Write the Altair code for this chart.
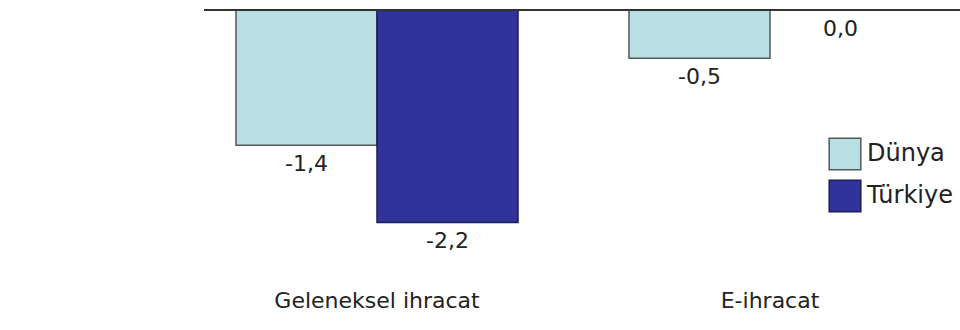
import altair as alt
import pandas as pd

categories = ["Geleneksel ihracat", "E-ihracat"]
series = ["Dünya", "Türkiye"]
dunya = [-1.4, -0.5]
turkiye = [-2.2, 0.0]
labels_dunya = ["-1,4", "-0,5"]
labels_turkiye = ["-2,2", "0,0"]

rows = []
for i, c in enumerate(categories):
    rows.append({"kategori": c, "seri": series[0], "deger": dunya[i], "etiket": labels_dunya[i]})
    rows.append({"kategori": c, "seri": series[1], "deger": turkiye[i], "etiket": labels_turkiye[i]})
df = pd.DataFrame(rows)

FONT = "DejaVu Sans"
TXT = "#222222"

x = alt.X(
    "kategori:N",
    sort=categories,
    scale=alt.Scale(range=[0, 739], paddingInner=0.2824, paddingOuter=0.0814),
    axis=alt.Axis(orient="bottom", title=None, domain=False, ticks=False, labelAngle=0,
                  labelFontSize=22, labelFont=FONT, labelColor=TXT, labelPadding=0,
                  labelLimit=0),
)
xo = alt.XOffset("seri:N", sort=series, scale=alt.Scale(paddingInner=0, paddingOuter=0))
y = alt.Y("deger:Q", scale=alt.Scale(domain=[-2.9, 0], nice=False, zero=True), axis=None)

bars = alt.Chart(df).mark_bar(strokeWidth=1.5).encode(
    x=x,
    xOffset=xo,
    y=y,
    color=alt.Color(
        "seri:N",
        sort=series,
        scale=alt.Scale(domain=series, range=["#B9DFE3", "#303399"]),
        legend=alt.Legend(
            title=None, orient="none", legendX=624, legendY=127, padding=0,
            symbolType="square", symbolSize=1000, symbolStrokeColor="#555555",
            symbolStrokeWidth=1.5, symbolOpacity=1, rowPadding=4, labelOffset=5,
            labelFontSize=24, labelFont=FONT, labelColor=TXT,
        ),
    ),
    stroke=alt.Stroke(
        "seri:N",
        sort=series,
        scale=alt.Scale(domain=series, range=["#505a5c", "#1e1e55"]),
        legend=None,
    ),
)

text = alt.Chart(df).mark_text(
    baseline="top", align="center", dy=9, fontSize=22, font=FONT, color=TXT
).encode(x=x, xOffset=xo, y=y, text="etiket:N")

zero = alt.Chart(df).mark_rule(color="#333333", strokeWidth=1.5).encode(y=alt.datum(0))

chart = (
    alt.layer(bars, text, zero)
    .properties(
        width=756,
        height=280,
        autosize="none",
        padding={"left": 204, "top": 10, "right": 0, "bottom": 40},
        background="white",
    )
    .configure_view(stroke=None)
)

chart.save("out.html", embed_options={"renderer": "svg", "actions": False})
